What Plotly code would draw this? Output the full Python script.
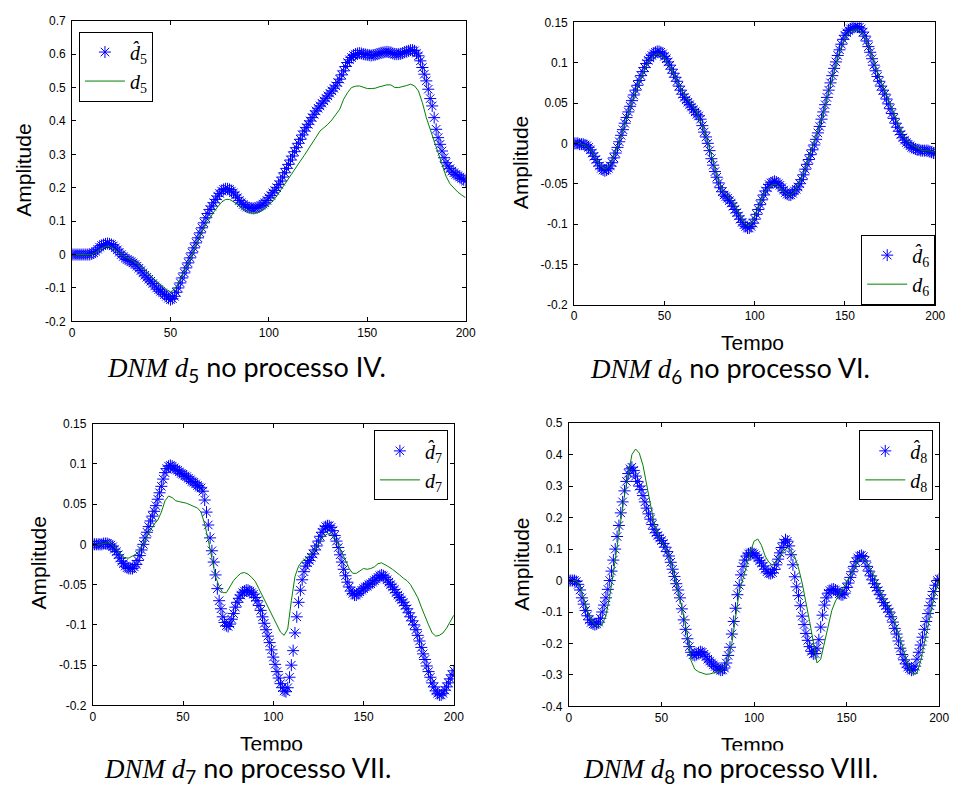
import plotly.graph_objects as go

# ---------------- data ----------------
t_star = list(range(0, 201))
t_line = list(range(0, 201, 2))

d5_hat = [0, 0, 0, 0, 0, 0, 0, 0, 0, 0, 0.002,
          0.005, 0.01, 0.016, 0.022, 0.027, 0.03, 0.032, 0.033, 0.032, 0.03,
          0.026, 0.02, 0.014, 0.007, 0.0, -0.006, -0.011, -0.015, -0.018, -0.021,
          -0.025, -0.03, -0.035, -0.041, -0.048, -0.055, -0.062, -0.068, -0.074, -0.08,
          -0.087, -0.094, -0.1, -0.105, -0.11, -0.115, -0.12, -0.125, -0.131, -0.135,
          -0.132, -0.125, -0.113, -0.1, -0.085, -0.07, -0.055, -0.04, -0.025, -0.01,
          0.005, 0.02, 0.035, 0.05, 0.065, 0.08, 0.095, 0.11, 0.123, 0.135,
          0.145, 0.155, 0.165, 0.175, 0.183, 0.19, 0.195, 0.197, 0.197, 0.195,
          0.19, 0.185, 0.178, 0.17, 0.162, 0.155, 0.15, 0.145, 0.142, 0.14,
          0.139, 0.138, 0.139, 0.14, 0.143, 0.147, 0.151, 0.155, 0.162, 0.17,
          0.177, 0.185, 0.192, 0.2, 0.21, 0.22, 0.232, 0.245, 0.258, 0.27,
          0.283, 0.295, 0.308, 0.32, 0.333, 0.345, 0.358, 0.37, 0.38, 0.39,
          0.4, 0.41, 0.42, 0.43, 0.438, 0.445, 0.453, 0.46, 0.468, 0.475,
          0.483, 0.49, 0.498, 0.505, 0.515, 0.525, 0.538, 0.55, 0.563, 0.575,
          0.583, 0.59, 0.596, 0.6, 0.602, 0.603, 0.602, 0.6, 0.599, 0.598,
          0.597, 0.596, 0.597, 0.598, 0.6, 0.602, 0.604, 0.605, 0.606, 0.607,
          0.606, 0.605, 0.602, 0.6, 0.6, 0.6, 0.601, 0.603, 0.606, 0.608,
          0.61, 0.612, 0.612, 0.61, 0.603, 0.595, 0.58, 0.56, 0.54, 0.52,
          0.495, 0.467, 0.445, 0.41, 0.375, 0.35, 0.33, 0.31, 0.29, 0.275,
          0.265, 0.257, 0.25, 0.245, 0.24, 0.236, 0.232, 0.228, 0.224, 0.22]

d5 = [0, 0, 0, 0, 0, 0.0, 0.006, 0.015, 0.022, 0.025, 0.022,
      0.014, 0.004, -0.004, -0.01, -0.015, -0.022, -0.03, -0.04, -0.052, -0.065,
      -0.075, -0.085, -0.095, -0.105, -0.112, -0.105, -0.085, -0.062, -0.04, -0.015,
      0.015, 0.042, 0.068, 0.09, 0.11, 0.127, 0.143, 0.157, 0.165, 0.165,
      0.158, 0.149, 0.14, 0.132, 0.126, 0.124, 0.125, 0.13, 0.138, 0.148,
      0.16, 0.175, 0.193, 0.21, 0.228, 0.245, 0.265, 0.28, 0.297, 0.315,
      0.335, 0.355, 0.37, 0.38, 0.39, 0.403, 0.418, 0.435, 0.465, 0.485,
      0.5, 0.504, 0.505, 0.5, 0.497, 0.497, 0.498, 0.502, 0.505, 0.508,
      0.508, 0.5, 0.5, 0.502, 0.506, 0.51, 0.505, 0.49, 0.455, 0.41,
      0.375, 0.335, 0.3, 0.265, 0.235, 0.212, 0.198, 0.187, 0.178, 0.17]

d6_hat = [0.0, 0.0, 0.0, -0.001, -0.001, -0.001, -0.002, -0.003, -0.005, -0.008, -0.012,
          -0.016, -0.02, -0.024, -0.028, -0.031, -0.033, -0.034, -0.033, -0.031, -0.028,
          -0.024, -0.018, -0.012, -0.005, 0.002, 0.01, 0.017, 0.025, 0.032, 0.039,
          0.046, 0.053, 0.06, 0.066, 0.072, 0.078, 0.084, 0.089, 0.094, 0.099,
          0.103, 0.106, 0.109, 0.111, 0.113, 0.114, 0.114, 0.113, 0.111, 0.108,
          0.105, 0.101, 0.097, 0.092, 0.087, 0.082, 0.077, 0.071, 0.066, 0.061,
          0.057, 0.054, 0.051, 0.048, 0.045, 0.042, 0.039, 0.036, 0.034, 0.03,
          0.022, 0.014, 0.008, 0.0, -0.009, -0.019, -0.027, -0.035, -0.042, -0.049,
          -0.055, -0.06, -0.064, -0.066, -0.068, -0.071, -0.074, -0.078, -0.082, -0.086,
          -0.09, -0.094, -0.098, -0.101, -0.103, -0.105, -0.105, -0.103, -0.099, -0.094,
          -0.088, -0.082, -0.076, -0.07, -0.064, -0.059, -0.055, -0.051, -0.049, -0.048,
          -0.047, -0.048, -0.05, -0.052, -0.055, -0.058, -0.061, -0.063, -0.064, -0.064,
          -0.062, -0.059, -0.057, -0.054, -0.05, -0.045, -0.039, -0.032, -0.026, -0.02,
          -0.014, -0.008, -0.002, 0.005, 0.013, 0.021, 0.03, 0.039, 0.048, 0.057,
          0.066, 0.075, 0.084, 0.093, 0.101, 0.109, 0.116, 0.123, 0.129, 0.134,
          0.137, 0.14, 0.142, 0.143, 0.144, 0.145, 0.145, 0.144, 0.142, 0.138,
          0.133, 0.127, 0.12, 0.113, 0.105, 0.097, 0.09, 0.083, 0.077, 0.071,
          0.066, 0.061, 0.055, 0.049, 0.043, 0.037, 0.031, 0.025, 0.02, 0.015,
          0.011, 0.007, 0.004, 0.001, -0.001, -0.003, -0.005, -0.006, -0.007, -0.008,
          -0.008, -0.009, -0.009, -0.009, -0.009, -0.009, -0.01, -0.011, -0.012, -0.012]

d6 = [0.0, 0.0, -0.001, -0.002, -0.005, -0.011, -0.019, -0.026, -0.031, -0.031, -0.026,
      -0.016, -0.004, 0.01, 0.024, 0.038, 0.052, 0.064, 0.076, 0.087, 0.096,
      0.104, 0.109, 0.111, 0.11, 0.106, 0.099, 0.091, 0.082, 0.072, 0.064,
      0.057, 0.052, 0.046, 0.038, 0.028, 0.016, 0.002, -0.015, -0.032, -0.047,
      -0.058, -0.063, -0.067, -0.073, -0.081, -0.09, -0.098, -0.102, -0.1, -0.091,
      -0.079, -0.068, -0.059, -0.054, -0.051, -0.051, -0.055, -0.059, -0.063, -0.064,
      -0.06, -0.052, -0.043, -0.031, -0.018, -0.006, 0.007, 0.022, 0.038, 0.055,
      0.073, 0.09, 0.106, 0.12, 0.13, 0.137, 0.14, 0.141, 0.14, 0.136,
      0.127, 0.115, 0.101, 0.088, 0.076, 0.066, 0.055, 0.043, 0.031, 0.02,
      0.011, 0.005, 0.0, -0.003, -0.006, -0.008, -0.009, -0.009, -0.01, -0.011]

d7_hat = [0.0, 0.0, 0.0, 0.0, 0.0, 0.0, 0.001, 0.001, 0.001, 0.0, -0.001,
          -0.003, -0.006, -0.009, -0.013, -0.017, -0.021, -0.024, -0.027, -0.029, -0.03,
          -0.03, -0.03, -0.028, -0.025, -0.02, -0.014, -0.007, 0.0, 0.008, 0.015,
          0.022, 0.029, 0.035, 0.041, 0.048, 0.056, 0.064, 0.072, 0.081, 0.089,
          0.094, 0.097, 0.098, 0.097, 0.095, 0.093, 0.092, 0.09, 0.088, 0.087,
          0.085, 0.084, 0.082, 0.08, 0.078, 0.077, 0.075, 0.073, 0.071, 0.07,
          0.066, 0.055, 0.04, 0.024, 0.008, -0.008, -0.022, -0.038, -0.055, -0.07,
          -0.08, -0.09, -0.097, -0.101, -0.102, -0.099, -0.093, -0.086, -0.078, -0.072,
          -0.067, -0.063, -0.06, -0.058, -0.057, -0.057, -0.058, -0.06, -0.062, -0.066,
          -0.07, -0.076, -0.082, -0.09, -0.098, -0.106, -0.114, -0.122, -0.131, -0.14,
          -0.149, -0.158, -0.166, -0.173, -0.178, -0.182, -0.183, -0.178, -0.165, -0.15,
          -0.132, -0.11, -0.09, -0.072, -0.057, -0.044, -0.034, -0.027, -0.023, -0.02,
          -0.016, -0.012, -0.007, -0.002, 0.004, 0.01, 0.015, 0.019, 0.022, 0.023,
          0.023, 0.021, 0.017, 0.011, 0.004, -0.004, -0.013, -0.022, -0.031, -0.039,
          -0.047, -0.053, -0.058, -0.061, -0.063, -0.063, -0.061, -0.059, -0.057, -0.055,
          -0.053, -0.052, -0.05, -0.049, -0.047, -0.045, -0.043, -0.041, -0.039, -0.038,
          -0.039, -0.041, -0.044, -0.047, -0.05, -0.053, -0.056, -0.06, -0.063, -0.066,
          -0.069, -0.072, -0.076, -0.08, -0.085, -0.09, -0.095, -0.1, -0.106, -0.113,
          -0.12, -0.128, -0.136, -0.143, -0.151, -0.158, -0.165, -0.172, -0.177, -0.182,
          -0.185, -0.187, -0.187, -0.185, -0.181, -0.177, -0.172, -0.167, -0.162, -0.157]

d7 = [0.0, 0.0, 0.0, 0.001, 0.002, 0.001, -0.003, -0.008, -0.014, -0.017, -0.017,
      -0.015, -0.012, -0.007, 0.0, 0.01, 0.018, 0.025, 0.03, 0.04, 0.054,
      0.06, 0.058, 0.054, 0.053, 0.052, 0.051, 0.049, 0.047, 0.045, 0.04,
      0.025, 0.005, -0.02, -0.04, -0.052, -0.06, -0.06, -0.052, -0.045, -0.04,
      -0.036, -0.035, -0.037, -0.041, -0.046, -0.055, -0.064, -0.073, -0.082, -0.091,
      -0.1, -0.109, -0.113, -0.105, -0.07, -0.04, -0.027, -0.021, -0.018, -0.014,
      -0.01, -0.004, 0.004, 0.01, 0.013, 0.013, 0.008, 0.0, -0.01, -0.02,
      -0.03, -0.036, -0.036, -0.033, -0.03, -0.031, -0.03, -0.028, -0.024, -0.023,
      -0.025, -0.028, -0.031, -0.034, -0.038, -0.042, -0.045, -0.05, -0.058, -0.066,
      -0.078, -0.09, -0.1, -0.11, -0.114, -0.113, -0.11, -0.104, -0.096, -0.088]

d8_hat = [0.0, 0.0, 0.0, 0.0, -0.003, -0.012, -0.03, -0.055, -0.075, -0.095, -0.112,
          -0.125, -0.133, -0.138, -0.14, -0.138, -0.132, -0.12, -0.1, -0.078, -0.055,
          -0.028, 0.0, 0.03, 0.065, 0.1, 0.14, 0.175, 0.215, 0.25, 0.285,
          0.315, 0.34, 0.355, 0.36, 0.35, 0.332, 0.315, 0.3, 0.289, 0.27,
          0.25, 0.23, 0.212, 0.195, 0.178, 0.163, 0.152, 0.143, 0.135, 0.127,
          0.118, 0.106, 0.092, 0.078, 0.058, 0.036, 0.013, -0.01, -0.03, -0.055,
          -0.09, -0.125, -0.155, -0.185, -0.21, -0.228, -0.236, -0.238, -0.235, -0.229,
          -0.226, -0.228, -0.234, -0.242, -0.25, -0.256, -0.262, -0.268, -0.273, -0.278,
          -0.282, -0.285, -0.284, -0.278, -0.262, -0.238, -0.212, -0.17, -0.13, -0.088,
          -0.045, -0.015, 0.018, 0.045, 0.065, 0.078, 0.085, 0.088, 0.088, 0.085,
          0.08, 0.072, 0.063, 0.056, 0.046, 0.036, 0.028, 0.023, 0.022, 0.025,
          0.035, 0.05, 0.068, 0.088, 0.105, 0.12, 0.13, 0.125, 0.11, 0.082,
          0.05, 0.012, -0.02, -0.048, -0.08, -0.113, -0.14, -0.168, -0.19, -0.21,
          -0.225, -0.233, -0.232, -0.215, -0.188, -0.148, -0.11, -0.078, -0.055, -0.04,
          -0.032, -0.028, -0.027, -0.03, -0.036, -0.042, -0.045, -0.045, -0.04, -0.022,
          -0.008, 0.01, 0.028, 0.045, 0.06, 0.072, 0.078, 0.08, 0.076, 0.062,
          0.045, 0.03, 0.015, 0.002, -0.01, -0.022, -0.032, -0.045, -0.058, -0.07,
          -0.08, -0.09, -0.1, -0.115, -0.132, -0.152, -0.17, -0.192, -0.215, -0.235,
          -0.252, -0.265, -0.275, -0.28, -0.285, -0.283, -0.272, -0.25, -0.228, -0.205,
          -0.18, -0.155, -0.13, -0.105, -0.08, -0.058, -0.035, -0.015, 0.0, 0.005]

d8 = [0.0, 0.0, 0.0, -0.02, -0.06, -0.095, -0.125, -0.14, -0.148, -0.14, -0.11,
      -0.05, 0.025, 0.1, 0.19, 0.27, 0.34, 0.4, 0.418, 0.405, 0.366,
      0.3, 0.243, 0.183, 0.147, 0.125, 0.108, 0.08, 0.04, -0.01, -0.06,
      -0.11, -0.175, -0.255, -0.282, -0.29, -0.294, -0.298, -0.297, -0.293, -0.29,
      -0.287, -0.275, -0.248, -0.2, -0.11, -0.035, 0.005, 0.05, 0.09, 0.125,
      0.132, 0.112, 0.078, 0.058, 0.049, 0.06, 0.078, 0.095, 0.104, 0.095,
      0.075, 0.04, -0.008, -0.065, -0.13, -0.195, -0.262, -0.25, -0.195, -0.14,
      -0.095, -0.065, -0.045, -0.027, -0.008, 0.015, 0.04, 0.063, 0.07, 0.065,
      0.048, 0.025, 0.0, -0.032, -0.058, -0.075, -0.095, -0.13, -0.165, -0.205,
      -0.245, -0.28, -0.298, -0.295, -0.255, -0.205, -0.145, -0.085, -0.035, 0.0]

x_ticks = [0, 50, 100, 150, 200]
x_ticktext = ["0", "50", "100", "150", "200"]
y_ticks_a = [-0.2, -0.1, 0, 0.1, 0.2, 0.3, 0.4, 0.5, 0.6, 0.7]
y_ticktext_a = ["-0.2", "-0.1", "0", "0.1", "0.2", "0.3", "0.4", "0.5", "0.6", "0.7"]
y_ticks_b = [-0.2, -0.15, -0.1, -0.05, 0, 0.05, 0.1, 0.15]
y_ticktext_b = ["-0.2", "-0.15", "-0.1", "-0.05", "0", "0.05", "0.1", "0.15"]
y_ticks_c = [-0.4, -0.3, -0.2, -0.1, 0, 0.1, 0.2, 0.3, 0.4, 0.5]
y_ticktext_c = ["-0.4", "-0.3", "-0.2", "-0.1", "0", "0.1", "0.2", "0.3", "0.4", "0.5"]

captions = ["IV.", "VI.", "VII.", "VIII."]
indices = ["5", "6", "7", "8"]

for arr in (d5_hat, d6_hat, d7_hat, d8_hat):
    assert len(arr) == len(t_star), len(arr)
for arr in (d5, d6, d7, d8):
    assert len(arr) == len(t_line), len(arr)

# ---------------- layout geometry ----------------
W, H = 962, 792


def px(x):
    return x / W


def py(y):
    return 1 - y / H


panels = [
    dict(hat=d5_hat, ref=d5, idx="5", x=(70, 469), y=(14, 320), yr=(-0.2, 0.7),
         yt=(y_ticks_a, y_ticktext_a),
         legend=dict(x=px(77), y=py(25), xanchor="left", yanchor="top"),
         amp=(20, 166), tempo=None, cap=(247, 368, "IV.")),
    dict(hat=d6_hat, ref=d6, idx="6", x=(579, 945), y=(15.7, 303), yr=(-0.2, 0.15),
         yt=(y_ticks_b, y_ticktext_b),
         legend=dict(x=px(945), y=py(303), xanchor="right", yanchor="bottom"),
         amp=(524, 158), tempo=(760, 342), cap=(737, 369, "VI.")),
    dict(hat=d7_hat, ref=d7, idx="7", x=(91, 457), y=(424, 711), yr=(-0.2, 0.15),
         yt=(y_ticks_b, y_ticktext_b),
         legend=dict(x=px(451), y=py(431), xanchor="right", yanchor="top"),
         amp=(36, 566), tempo=(272, 750), cap=(248, 776, "VII.")),
    dict(hat=d8_hat, ref=d8, idx="8", x=(573.7, 949), y=(423.7, 712), yr=(-0.4, 0.5),
         yt=(y_ticks_c, y_ticktext_c),
         legend=dict(x=px(943), y=py(431), xanchor="right", yanchor="top"),
         amp=(526, 567), tempo=(760, 751), cap=(737, 776, "VIII.")),
]

fig = go.Figure()
annotations = []
layout = {}
tick_font = dict(family="Liberation Sans, Arial, sans-serif", size=12, color="black")

for i, p in enumerate(panels):
    n = i + 1
    xa = "x" if n == 1 else f"x{n}"
    ya = "y" if n == 1 else f"y{n}"
    leg = "legend" if n == 1 else f"legend{n}"
    fig.add_trace(go.Scatter(
        x=t_star, y=p["hat"], mode="markers", xaxis=xa, yaxis=ya, legend=leg,
        name=f"<i>d\u0302</i><sub>{p['idx']}</sub>",
        marker=dict(symbol="asterisk-open", size=10, color="#0000ff",
                    line=dict(color="rgba(0,0,255,0.75)", width=1)),
    ))
    fig.add_trace(go.Scatter(
        x=t_line, y=p["ref"], mode="lines", xaxis=xa, yaxis=ya, legend=leg,
        name=f"<i>d</i><sub>{p['idx']}</sub>",
        line=dict(color="#008000", width=1),
    ))
    xkey = "xaxis" if n == 1 else f"xaxis{n}"
    ykey = "yaxis" if n == 1 else f"yaxis{n}"
    layout[xkey] = dict(
        domain=[px(p["x"][0]), px(p["x"][1])], anchor=ya, range=[0, 200],
        tickvals=x_ticks, ticktext=x_ticktext, ticks="inside", ticklen=4,
        tickcolor="black", showline=True, linecolor="black", linewidth=1,
        mirror="ticks", showgrid=False, zeroline=False, tickfont=tick_font,
    )
    layout[ykey] = dict(
        domain=[py(p["y"][1]), py(p["y"][0])], anchor=xa, range=list(p["yr"]),
        tickvals=p["yt"][0], ticktext=p["yt"][1], ticks="inside", ticklen=4,
        tickcolor="black", showline=True, linecolor="black", linewidth=1,
        mirror="ticks", showgrid=False, zeroline=False, tickfont=tick_font,
        ticklabelstandoff=3,
    )
    layout[leg] = dict(
        **p["legend"], bgcolor="white", bordercolor="black", borderwidth=1,
        font=dict(family="Liberation Serif, Times New Roman, serif", size=20, color="black"),
        itemwidth=40, tracegroupgap=0,
    )
    annotations.append(dict(
        x=px(p["amp"][0]), y=py(p["amp"][1]), xref="paper", yref="paper",
        text="Amplitude", textangle=-90, showarrow=False,
        xanchor="center", yanchor="middle",
        font=dict(family="Liberation Sans, Arial, sans-serif", size=21, color="black"),
    ))
    if p["tempo"] is not None:
        annotations.append(dict(
            x=px(p["tempo"][0]), y=py(p["tempo"][1]), xref="paper", yref="paper",
            text="Tempo", showarrow=False, xanchor="center", yanchor="middle",
            font=dict(family="Liberation Sans, Arial, sans-serif", size=21, color="black"),
        ))

for i, p in enumerate(panels):
    cx, cy, roman = p["cap"]
    annotations.append(dict(
        x=px(cx), y=py(cy), xref="paper", yref="paper", showarrow=False,
        xanchor="center", yanchor="middle", bgcolor="white", borderpad=0,
        text=(f"<span style='font-family:Liberation Serif'><i>DNM d</i></span>"
              f"<sub>{p['idx']}</sub> no processo {roman}"),
        font=dict(family="Lato, Open Sans, sans-serif", size=27, color="black"),
    ))

fig.update_layout(
    width=W, height=H, margin=dict(l=0, r=0, t=0, b=0),
    paper_bgcolor="white", plot_bgcolor="white", showlegend=True,
    annotations=annotations, **layout,
)

fig.write_html("out.html")
